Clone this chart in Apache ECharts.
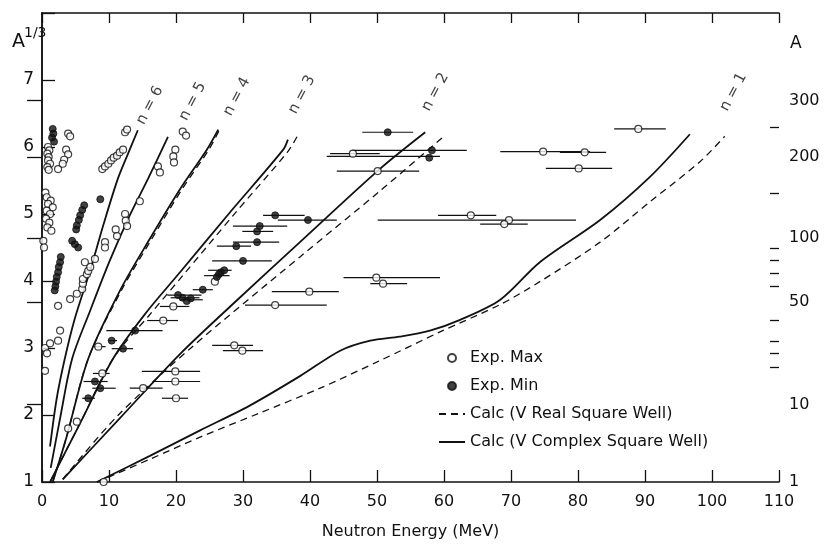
<!DOCTYPE html>
<html>
<head>
<meta charset="utf-8">
<script src="https://cdn.jsdelivr.net/npm/echarts@6.0.0/dist/echarts.min.js"></script>
<style>
  html, body { margin: 0; padding: 0; background: #fff; }
  #mainChart { width: 826px; height: 545px; }
</style>
</head>
<body>
<div id="mainChart"></div>
<script>
// Exp. Max (open circles), [E MeV, A^1/3]
const expMax = [
  [0.9, 6.0], [1.1, 5.95], [0.8, 5.9], [1.0, 5.85], [0.9, 5.8], [1.2, 5.75], [0.8, 5.7], [1.0, 5.66],
  [2.4, 5.67],
  [0.5, 5.32], [0.7, 5.25], [1.3, 5.2], [0.9, 5.15], [1.6, 5.1], [0.7, 5.05], [1.2, 5.0], [0.6, 4.93],
  [1.1, 4.87], [0.8, 4.8], [1.4, 4.75], [0.2, 4.6], [0.3, 4.5],
  [0.45, 2.66], [0.45, 3.0], [0.75, 2.92], [1.2, 3.07], [2.4, 3.11], [2.7, 3.26],
  [2.4, 3.63], [4.2, 3.73], [5.2, 3.81], [6.0, 3.88], [6.1, 3.96], [6.1, 4.03], [6.7, 4.1], [6.9, 4.15],
  [7.2, 4.21], [6.4, 4.28], [7.9, 4.33],
  [9.4, 4.58], [9.4, 4.5], [11.0, 4.77], [11.2, 4.67], [12.4, 5.0], [12.5, 4.9], [12.7, 4.82], [14.6, 5.19],
  [9.0, 5.67], [9.4, 5.71], [9.9, 5.75], [10.3, 5.8], [10.7, 5.84], [11.2, 5.87], [11.6, 5.92], [12.1, 5.96],
  [12.4, 6.22], [12.7, 6.26],
  [3.9, 6.2], [4.2, 6.16], [3.6, 5.96], [3.9, 5.89], [3.3, 5.81], [3.1, 5.75],
  [17.3, 5.71], [17.6, 5.62], [19.9, 5.96], [19.6, 5.86], [19.7, 5.77], [21.0, 6.23], [21.5, 6.17],
  [9.0, 2.62], [5.2, 1.9], [3.9, 1.8], [15.1, 2.4], [19.9, 2.65], [19.9, 2.5], [20.0, 2.25],
  [18.1, 3.41], [8.4, 3.02], [19.6, 3.62],
  [28.7, 3.04], [29.9, 2.96], [34.8, 3.64], [39.9, 3.84], [49.9, 4.05], [50.9, 3.96],
  [64.0, 4.98], [69.7, 4.91], [69.0, 4.85],
  [46.4, 5.9], [50.1, 5.64], [74.8, 5.93], [81.0, 5.92], [80.1, 5.68], [89.0, 6.27],
  [9.2, 1.0], [25.8, 3.99]
]

// Exp. Min (filled circles)
const expMin = [
  [1.6, 6.27], [1.7, 6.2], [1.5, 6.14], [1.8, 6.08],
  [2.8, 4.36], [2.7, 4.28], [2.5, 4.21], [2.4, 4.13], [2.2, 4.06], [2.1, 3.99], [2.0, 3.92], [1.9, 3.86],
  [6.3, 5.13], [6.0, 5.06], [5.7, 4.98], [5.5, 4.91], [5.2, 4.83], [5.1, 4.77],
  [4.5, 4.6], [4.9, 4.55], [5.4, 4.5],
  [8.7, 5.22],
  [7.9, 2.5], [8.7, 2.4], [6.9, 2.25], [10.4, 3.11], [13.9, 3.26], [12.1, 2.99],
  [20.3, 3.79], [21.0, 3.75], [22.2, 3.74], [21.6, 3.7],
  [24.0, 3.87], [26.1, 4.06], [26.4, 4.1], [26.7, 4.13], [27.2, 4.16], [30.0, 4.3], [29.0, 4.52],
  [32.1, 4.58], [32.1, 4.74], [32.5, 4.82], [34.8, 4.98], [39.7, 4.91],
  [51.6, 6.22], [58.2, 5.95], [57.8, 5.84]
]

// horizontal energy spreads: [E low, E high, A^1/3]
const errorBars = [
  [7.6, 10.1, 2.62], [6.2, 9.8, 2.5], [7.5, 11.0, 2.4], [6.0, 7.9, 2.25],
  [13.1, 18.0, 2.4], [14.9, 23.6, 2.65], [16.6, 23.6, 2.5], [17.9, 21.8, 2.25],
  [15.7, 20.3, 3.41], [7.7, 9.5, 3.02], [9.9, 11.2, 3.11], [9.6, 18.0, 3.26], [10.4, 13.6, 2.99],
  [18.7, 23.8, 3.79], [19.2, 23.5, 3.75], [20.5, 24.0, 3.72], [17.6, 22.0, 3.62],
  [22.5, 25.5, 3.87], [24.2, 28.0, 4.08], [24.8, 28.3, 4.16], [25.4, 34.3, 4.3], [26.1, 31.2, 4.52],
  [28.5, 35.4, 4.58], [29.9, 34.5, 4.74], [28.5, 36.6, 4.82], [33.0, 39.2, 4.98], [35.2, 44.0, 4.91],
  [25.4, 31.5, 3.04], [27.0, 33.0, 2.96], [30.3, 42.5, 3.64], [34.3, 44.3, 3.84], [45.0, 59.4, 4.05],
  [49.0, 54.5, 3.96], [59.1, 67.8, 4.98], [50.1, 79.7, 4.91], [65.4, 72.5, 4.85],
  [47.8, 55.4, 6.22], [46.3, 63.4, 5.95], [42.5, 59.4, 5.86], [43.0, 50.4, 5.9], [44.0, 56.3, 5.64],
  [68.4, 81.8, 5.93], [77.3, 84.2, 5.92], [75.2, 85.1, 5.68], [85.4, 93.1, 6.27]
]

// Calc, V complex square well (solid)
const complexN1 = [[8.2, 1.0], [16.1, 1.39], [23.6, 1.77], [31.0, 2.14], [38.5, 2.58], [44.5, 2.96], [49.0, 3.11],
  [53.4, 3.17], [57.9, 3.26], [62.4, 3.42], [68.4, 3.72], [74.3, 4.28], [83.3, 4.91], [90.7, 5.55], [96.7, 6.19]]
const complexN2 = [[3.1, 1.04], [11.6, 1.95], [20.7, 2.92], [29.5, 3.75], [38.5, 4.58], [50.4, 5.67], [57.2, 6.22]]
const complexN3 = [[1.2, 1.0], [5.7, 1.88], [10.6, 2.84], [15.4, 3.51], [20.6, 4.13], [28.1, 5.03], [36.0, 5.96], [36.7, 6.11]]
const complexN4 = [[1.6, 1.0], [3.6, 1.65], [6.9, 2.84], [11.6, 3.85], [16.1, 4.63], [20.6, 5.37], [24.6, 5.96], [26.3, 6.26]]
const complexN5 = [[1.3, 1.21], [2.7, 1.95], [4.5, 2.84], [7.2, 3.56], [10.1, 4.3], [13.1, 4.98], [15.8, 5.52], [18.8, 6.15]]
const complexN6 = [[1.2, 1.53], [2.2, 2.25], [3.4, 2.84], [4.9, 3.44], [7.2, 4.16], [9.2, 4.85], [11.3, 5.52], [12.8, 5.89], [14.3, 6.25]]

// Calc, V real square well (dashed)
const realN1 = [[8.2, 1.0], [16.1, 1.34], [23.6, 1.67], [32.5, 2.03], [41.5, 2.4], [50.4, 2.81], [59.4, 3.24],
  [68.4, 3.65], [74.3, 3.99], [83.3, 4.58], [90.7, 5.18], [98.2, 5.78], [101.9, 6.16]]
const realN2 = [[3.1, 1.04], [11.2, 1.98], [22.1, 2.99], [38.5, 4.36], [50.4, 5.34], [60.1, 6.17]]
const realN3 = [[1.2, 1.0], [5.7, 1.88], [10.6, 2.84], [16.1, 3.5], [21.0, 4.08], [28.8, 5.01], [36.6, 5.92], [38.1, 6.16]]
const realN4 = [[1.6, 1.0], [3.6, 1.65], [6.9, 2.84], [11.8, 3.85], [16.4, 4.63], [20.9, 5.37], [24.9, 5.96], [26.6, 6.28]]

const curveNames = ['n = 1', 'n = 2', 'n = 3', 'n = 4', 'n = 5', 'n = 6']
const curveNameAt = [[103.2, 6.82], [58.7, 6.82], [38.8, 6.78], [29.1, 6.75], [22.5, 6.68], [16.1, 6.62]]

// right-hand scale in A
const aMajor = [10, 50, 100, 200, 300]
const aLabels = [1, 10, 50, 100, 200, 300]
const aMinor = [20, 25, 30, 40, 60, 70, 80, 90, 150, 250]

const FONT = 'DejaVu Sans'
const INK = '#111'
const REAL = 'Calc (V Real Square Well)'
const COMPLEX = 'Calc (V Complex Square Well)'

const chart = echarts.init(document.getElementById('mainChart'))

const solidSeries = [complexN1, complexN2, complexN3, complexN4, complexN5, complexN6].map(d => ({
  name: COMPLEX,
  type: 'line',
  data: d,
  symbol: 'none',
  smooth: 0.3,
  itemStyle: { color: INK },
  lineStyle: { color: INK, width: 1.8 },
  z: 3
}))
const dashedSeries = [realN1, realN2, realN3, realN4].map(d => ({
  name: REAL,
  type: 'line',
  data: d,
  symbol: 'none',
  smooth: 0.3,
  itemStyle: { color: INK },
  lineStyle: { color: INK, width: 1.3, type: [7, 5] },
  z: 3
}))

const option = {
  animation: false,
  backgroundColor: '#fff',
  textStyle: { fontFamily: FONT, color: INK },
  grid: { left: 42, right: 47, top: 13, bottom: 61 },
  legend: {
    orient: 'vertical',
    left: 433,
    top: 345,
    itemWidth: 26,
    itemHeight: 8,
    itemGap: 12,
    selectedMode: false,
    textStyle: { fontFamily: FONT, fontSize: 16, color: INK },
    data: [
      'Exp. Max',
      'Exp. Min',
      { name: REAL, itemStyle: { opacity: 0 } },
      { name: COMPLEX, itemStyle: { opacity: 0 } }
    ]
  },
  graphic: [
    { type: 'text', left: 12, top: 33, style: { text: 'A', fontFamily: FONT, fontSize: 19, fill: INK } },
    { type: 'text', left: 24, top: 26, style: { text: '1/3', fontFamily: FONT, fontSize: 14, fill: INK } },
    { type: 'text', left: 790, top: 35, style: { text: 'A', fontFamily: FONT, fontSize: 17, fill: INK } }
  ],
  xAxis: [{
    type: 'value', min: 0, max: 110, interval: 10, position: 'bottom',
    axisLine: { lineStyle: { color: INK, width: 1.5 } },
    axisTick: { inside: true, length: 12, lineStyle: { color: INK, width: 1.3 } },
    axisLabel: { color: INK, fontFamily: FONT, fontSize: 16, margin: 12 },
    splitLine: { show: false },
    name: 'Neutron Energy (MeV)', nameLocation: 'middle', nameGap: 42,
    nameTextStyle: { fontFamily: FONT, fontSize: 16, color: INK }
  }, {
    type: 'value', min: 0, max: 110, interval: 10, position: 'top',
    axisLine: { lineStyle: { color: INK, width: 1.5 } },
    axisTick: { inside: true, length: 10, lineStyle: { color: INK, width: 1.3 } },
    axisLabel: { show: false },
    splitLine: { show: false }
  }],
  yAxis: [{
    type: 'value', min: 1, max: 8, interval: 1, position: 'left',
    axisLine: { lineStyle: { color: INK, width: 1.5 } },
    axisTick: { inside: true, length: 13, lineStyle: { color: INK, width: 1.3 } },
    axisLabel: { color: INK, fontFamily: FONT, fontSize: 17, margin: 8, formatter: v => (v === 8 ? '' : v) },
    splitLine: { show: false }
  }, {
    type: 'value', min: 1, max: 8, position: 'right',
    axisLine: { show: true, lineStyle: { color: INK, width: 1.5 } },
    axisTick: { inside: true, length: 15, customValues: aMajor.map(Math.cbrt), lineStyle: { color: INK, width: 1.3 } },
    axisLabel: {
      color: INK, fontFamily: FONT, fontSize: 16, margin: 10,
      customValues: aLabels.map(Math.cbrt),
      formatter: v => String(Math.round(Math.pow(v, 3)))
    },
    splitLine: { show: false }
  }, {
    type: 'value', min: 1, max: 8, position: 'right',
    axisLine: { show: false },
    axisTick: { inside: true, length: 9, customValues: aMinor.map(Math.cbrt), lineStyle: { color: INK, width: 1.3 } },
    axisLabel: { show: false },
    splitLine: { show: false }
  }],
  series: [
    ...dashedSeries,
    ...solidSeries,
    {
      name: 'bars',
      type: 'custom',
      data: errorBars,
      encode: { x: [0, 1], y: 2 },
      renderItem: (params, api) => {
        const p1 = api.coord([api.value(0), api.value(2)])
        const p2 = api.coord([api.value(1), api.value(2)])
        return {
          type: 'line',
          shape: { x1: p1[0], y1: p1[1], x2: p2[0], y2: p2[1] },
          style: { stroke: INK, lineWidth: 1.2 }
        }
      },
      z: 4
    },
    {
      name: 'Exp. Max',
      type: 'scatter',
      data: expMax,
      symbol: 'circle',
      symbolSize: 7,
      itemStyle: { color: '#fff', borderColor: INK, borderWidth: 1.2 },
      z: 5
    },
    {
      name: 'Exp. Min',
      type: 'scatter',
      data: expMin,
      symbol: 'circle',
      symbolSize: 7,
      itemStyle: { color: INK, borderColor: INK, borderWidth: 1 },
      z: 6
    },
    {
      name: 'labels',
      type: 'scatter',
      data: curveNameAt.map((p, i) => ({ value: p, name: curveNames[i] })),
      symbolSize: 0,
      label: {
        show: true,
        position: 'inside',
        formatter: p => p.name,
        rotate: 62,
        fontFamily: FONT,
        fontSize: 15,
        color: INK
      },
      silent: true,
      z: 7
    }
  ]
}

chart.setOption(option)
</script>
</body>
</html>
